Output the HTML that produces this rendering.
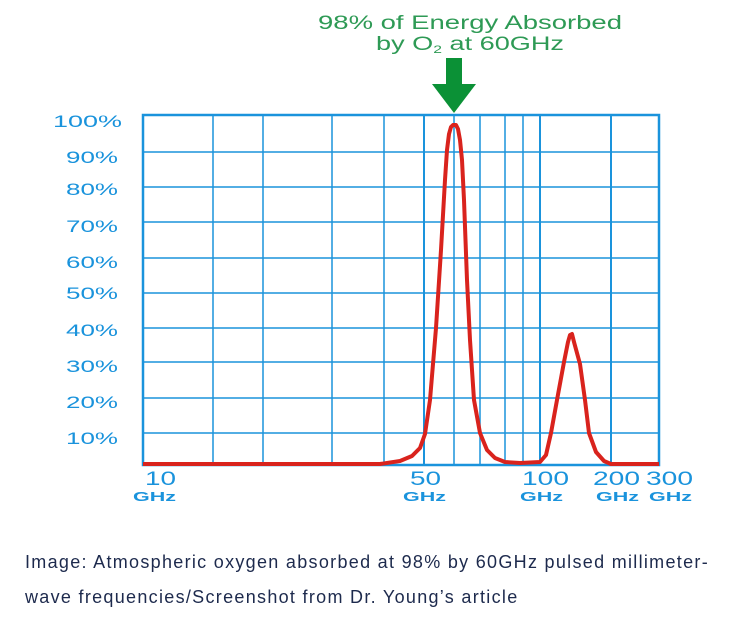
<!DOCTYPE html>
<html><head><style>
body{margin:0;background:#fff;width:740px;height:632px;overflow:hidden;font-family:"Liberation Sans",sans-serif}
.cap{position:absolute;left:25px;top:545px;width:720px;font-size:18px;letter-spacing:1.3px;line-height:35px;color:#1d2a4d;white-space:nowrap}
</style></head><body>
<svg width="740" height="540" style="position:absolute;left:0;top:0" font-family="Liberation Sans, sans-serif">
<text x="318" y="29" fill="#2e9a55" font-size="19" textLength="304" lengthAdjust="spacingAndGlyphs">98% of Energy Absorbed</text>
<text x="376" y="50" fill="#2e9a55" font-size="19" textLength="188" lengthAdjust="spacingAndGlyphs">by O<tspan font-size="11" dy="3">2</tspan><tspan dy="-3"> at 60GHz</tspan></text>
<rect x="446" y="58" width="16" height="28" fill="#0b9136"/>
<polygon points="432,84 476,84 454,113" fill="#0b9136"/>
<g stroke="#1a93dc" stroke-width="1.5" fill="none">
<rect x="143" y="115" width="516" height="350" stroke-width="2.5"/>
<line x1="143" x2="659" y1="152" y2="152"/><line x1="143" x2="659" y1="187" y2="187"/>
<line x1="143" x2="659" y1="222" y2="222"/><line x1="143" x2="659" y1="258" y2="258"/>
<line x1="143" x2="659" y1="293" y2="293"/><line x1="143" x2="659" y1="328" y2="328"/>
<line x1="143" x2="659" y1="362" y2="362"/><line x1="143" x2="659" y1="398" y2="398"/>
<line x1="143" x2="659" y1="433" y2="433"/>
<line x1="213" x2="213" y1="115" y2="465"/><line x1="263" x2="263" y1="115" y2="465"/>
<line x1="332" x2="332" y1="115" y2="465"/><line x1="384" x2="384" y1="115" y2="465"/>
<line x1="424" x2="424" y1="115" y2="465" stroke-width="2"/><line x1="454" x2="454" y1="115" y2="465"/>
<line x1="480" x2="480" y1="115" y2="465"/><line x1="505" x2="505" y1="115" y2="465"/>
<line x1="523" x2="523" y1="115" y2="465"/><line x1="540" x2="540" y1="115" y2="465" stroke-width="2"/>
<line x1="611" x2="611" y1="115" y2="465" stroke-width="2"/>
</g>
<g fill="#1a93dc" font-size="17">
<text x="53" y="127" textLength="69" lengthAdjust="spacingAndGlyphs">100%</text>
<text x="66" y="163" textLength="52" lengthAdjust="spacingAndGlyphs">90%</text>
<text x="66" y="195" textLength="52" lengthAdjust="spacingAndGlyphs">80%</text>
<text x="66" y="232" textLength="52" lengthAdjust="spacingAndGlyphs">70%</text>
<text x="66" y="268" textLength="52" lengthAdjust="spacingAndGlyphs">60%</text>
<text x="66" y="299" textLength="52" lengthAdjust="spacingAndGlyphs">50%</text>
<text x="66" y="336" textLength="52" lengthAdjust="spacingAndGlyphs">40%</text>
<text x="66" y="372" textLength="52" lengthAdjust="spacingAndGlyphs">30%</text>
<text x="66" y="408" textLength="52" lengthAdjust="spacingAndGlyphs">20%</text>
<text x="66" y="444" textLength="52" lengthAdjust="spacingAndGlyphs">10%</text>
</g>
<g fill="#1a93dc" font-size="19">
<text x="145" y="485" textLength="31" lengthAdjust="spacingAndGlyphs">10</text>
<text x="410" y="485" textLength="31" lengthAdjust="spacingAndGlyphs">50</text>
<text x="522" y="485" textLength="47" lengthAdjust="spacingAndGlyphs">100</text>
<text x="593" y="485" textLength="47" lengthAdjust="spacingAndGlyphs">200</text>
<text x="646" y="485" textLength="47" lengthAdjust="spacingAndGlyphs">300</text>
</g>
<g fill="#1a93dc" font-size="13" font-weight="bold">
<text x="133" y="501" textLength="43" lengthAdjust="spacingAndGlyphs">GHz</text>
<text x="403" y="501" textLength="43" lengthAdjust="spacingAndGlyphs">GHz</text>
<text x="520" y="501" textLength="43" lengthAdjust="spacingAndGlyphs">GHz</text>
<text x="596" y="501" textLength="43" lengthAdjust="spacingAndGlyphs">GHz</text>
<text x="649" y="501" textLength="43" lengthAdjust="spacingAndGlyphs">GHz</text>
</g>
<polyline points="143,464 380,464 400,461 412,456 420,448 425,434 430,400 436,328 441,250 445,180 447,150 449,134 451,127 453,125 456,125 458,129 460,140 462,160 464,200 467,280 470,340 474,400 480,433 487,450 495,458 505,462 520,463 540,462 546,455 551,433 557,400 564,362 568,342 570,335 572,334 574,342 580,364 585,400 589,433 596,452 604,461 611,464 659,464" stroke="#d9231d" stroke-width="4" fill="none" stroke-linejoin="round"/>
</svg>
<div class="cap">Image: Atmospheric oxygen absorbed at 98% by 60GHz pulsed millimeter-<br>wave frequencies/Screenshot from Dr. Young’s article</div>
</body></html>
